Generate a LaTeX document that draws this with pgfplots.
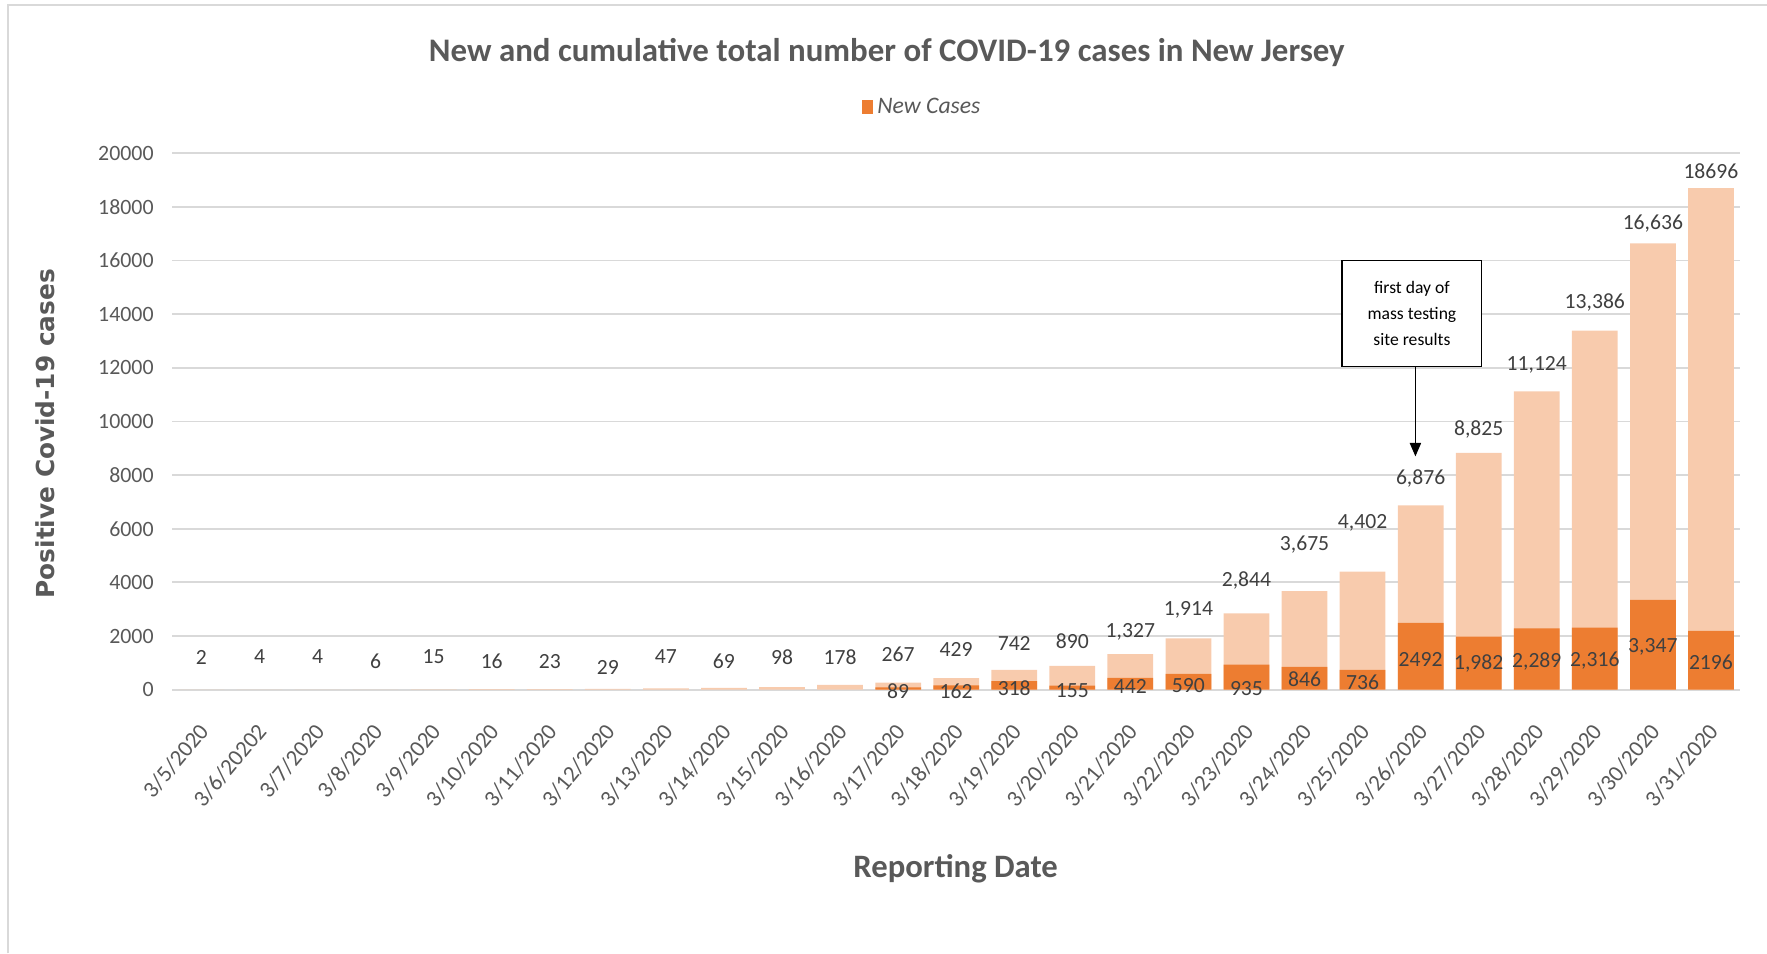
\documentclass[border=0pt]{standalone}
\usepackage{pgfplots}
\pgfplotsset{compat=1.18}
\usepackage{pgfplotstable}
\usepackage{fontspec}
\setmainfont{Carlito}
\newfontfamily\dejavu{DejaVu Sans}
\usetikzlibrary{arrows.meta}
\definecolor{newc}{HTML}{ED7D31}
\definecolor{cumc}{HTML}{F8CBAD}
\definecolor{txt}{HTML}{595959}
\definecolor{labc}{HTML}{404040}
\definecolor{gridc}{HTML}{D9D9D9}

\pgfplotstableread{
x total
0 2
1 4
2 4
3 6
4 15
5 16
6 23
7 29
8 47
9 69
10 98
11 178
12 267
13 429
14 742
15 890
16 1327
17 1914
18 2844
19 3675
20 4402
21 6876
22 8825
23 11124
24 13386
25 16636
26 18696
}\cumdata

\pgfplotstableread{
x new
12 89
13 162
14 318
15 155
16 442
17 590
18 935
19 846
20 736
21 2492
22 1982
23 2289
24 2316
25 3347
26 2196
}\newdata

\pgfplotstableread{
x y lab
0 1218 2
1 1218 4
2 1218 4
3 1050 6
4 1218 15
5 1050 16
6 1050 23
7 840 29
8 1218 47
9 1050 69
10 1218 98
11 1218 178
12 1302 267
13 1513 429
14 1723 742
15 1807 890
16 2143 1,327
17 2983 1,914
18 4076 2,844
19 5420 3,675
20 6218 4,402
21 7857 6,876
22 9706 8,825
23 12101 11,124
24 14454 13,386
25 17395 16,636
26 19328 18696
}\cumlab

\pgfplotstableread{
x y lab
12 -42 89
13 -42 162
14 42 318
15 -42 155
16 126 442
17 168 590
18 42 935
19 378 846
20 294 736
21 1134 2492
22 966 1,982
23 1050 2,289
24 1092 2,316
25 1597 3,347
26 1008 2196
}\newlab

\begin{document}
\begin{tikzpicture}
\begin{axis}[
  scale only axis, width=695.5pt, height=238pt,
  xmin=-0.5, xmax=26.5, ymin=0, ymax=20000,
  clip=false,
  axis line style={draw=none},
  major tick length=0pt,
  ytick={0,2000,...,20000},
  scaled y ticks=false,
  ymajorgrids, grid style={draw=gridc, line width=0.8pt},
  xtick={0,...,26},
  xticklabels={3/5/2020,3/6/20202,3/7/2020,3/8/2020,3/9/2020,3/10/2020,3/11/2020,3/12/2020,3/13/2020,3/14/2020,3/15/2020,3/16/2020,3/17/2020,3/18/2020,3/19/2020,3/20/2020,3/21/2020,3/22/2020,3/23/2020,3/24/2020,3/25/2020,3/26/2020,3/27/2020,3/28/2020,3/29/2020,3/30/2020,3/31/2020},
  /pgf/number format/assume math mode=true,
  yticklabel style={/pgf/number format/1000 sep={}, /pgf/number format/fixed, font=\fontsize{9.7}{11}\selectfont, text=txt, xshift=-4.8pt},
  xticklabel style={xshift=3.3pt, yshift=-14pt, rotate=50, anchor=east, font=\fontsize{10.2}{12}\selectfont, text=txt},
  xlabel={Reporting Date},
  xlabel style={at={(axis description cs:0.4997,-0.334)}, anchor=center, font=\bfseries\fontsize{14.5}{16}\selectfont, text=txt},
  ylabel={Positive Covid-19 cases},
  ylabel style={at={(axis description cs:-0.0812,0.477)}, anchor=center, font=\dejavu\bfseries\fontsize{11}{13}\selectfont, text=txt},
  legend style={at={(axis description cs:0.479,1.086)}, anchor=center, draw=none, fill=none, font=\itshape\fontsize{10.5}{12}\selectfont, text=txt},
  legend image code/.code={\fill[newc] (0pt,-3pt) rectangle (5pt,3pt);},
]
\addplot[ybar, bar width=20.3pt, bar shift=0pt, fill=cumc, draw=none, forget plot] table[x=x, y=total] {\cumdata};
\addplot[ybar, bar width=20.3pt, bar shift=0pt, fill=newc, draw=none] table[x=x, y=new] {\newdata};
\addlegendentry{New Cases}
\addplot[draw=none, mark=none, forget plot, nodes near coords, point meta=explicit symbolic,
  nodes near coords style={anchor=center, font=\fontsize{9.6}{11}\selectfont, text=labc}]
  table[x=x, y=y, meta=lab] {\cumlab};
\addplot[draw=none, mark=none, forget plot, nodes near coords, point meta=explicit symbolic,
  nodes near coords style={anchor=center, font=\fontsize{9.6}{11}\selectfont, text=labc}]
  table[x=x, y=y, meta=lab] {\newlab};
\node[draw=black, line width=0.6pt, fill=white, minimum width=62pt, minimum height=47pt, align=center, font=\fontsize{7.8}{11.5}\selectfont, text=black, inner sep=0pt] at (axis cs:20.85,14033) {first day of\\mass testing\\site results};
\draw[line width=0.6pt, -{Triangle[width=5pt,length=6pt]}] (axis cs:20.91,12059) -- (axis cs:20.91,8697);
\end{axis}
\node[font=\bfseries\fontsize{14.6}{16}\selectfont, text=txt] at (317pt,282.5pt) {New and cumulative total number of COVID-19 cases in New Jersey};
\draw[gridc, line width=0.8pt] (-73pt,-117pt) -- (-73pt,303.75pt) -- (707.5pt,303.75pt);
\pgfresetboundingbox
\useasboundingbox (-76.5pt,-117pt) rectangle (707.5pt,306pt);
\end{tikzpicture}
\end{document}
